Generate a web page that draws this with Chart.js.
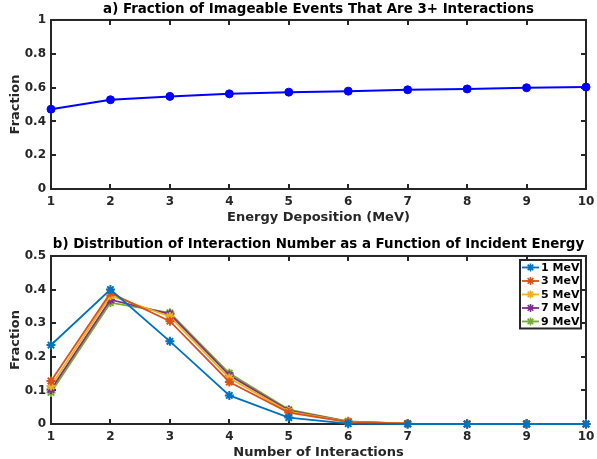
<!DOCTYPE html>
<html>
<head>
<meta charset="utf-8">
<script src="https://cdn.jsdelivr.net/npm/chart.js@4/dist/chart.umd.min.js"></script>
<style>
  html, body { margin: 0; padding: 0; background: #fff; }
  #wrap { position: relative; width: 597px; height: 459px; }
  canvas { position: absolute; left: 0; }
</style>
</head>
<body>
<div id="wrap">
  <canvas id="fracChart" width="597" height="230" style="top:0"></canvas>
  <canvas id="distChart" width="597" height="229" style="top:230px"></canvas>
</div>
<script>
// Panel a: fraction of imageable events with 3+ interactions vs deposited energy
const energyMeV = [1, 2, 3, 4, 5, 6, 7, 8, 9, 10];
const fraction3Plus = [0.472, 0.528, 0.548, 0.563, 0.573, 0.579, 0.587, 0.592, 0.599, 0.603];
const fracTicks = [0, 0.2, 0.4, 0.6, 0.8, 1];

// Panel b: distribution of interaction number for several incident energies
const interactionNumber = [1, 2, 3, 4, 5, 6, 7, 8, 9, 10];
const seriesLabels = ['1 MeV', '3 MeV', '5 MeV', '7 MeV', '9 MeV'];
const dist1MeV = [0.235, 0.400, 0.246, 0.085, 0.019, 0.001, 0, 0, 0, 0];
const dist3MeV = [0.128, 0.390, 0.306, 0.125, 0.034, 0.006, 0.001, 0, 0, 0];
const dist5MeV = [0.113, 0.382, 0.320, 0.137, 0.037, 0.007, 0.001, 0, 0, 0];
const dist7MeV = [0.103, 0.370, 0.327, 0.145, 0.040, 0.007, 0.001, 0, 0, 0];
const dist9MeV = [0.094, 0.361, 0.331, 0.151, 0.043, 0.008, 0.001, 0, 0, 0];
const distTicks = [0, 0.1, 0.2, 0.3, 0.4, 0.5];
const xTicks = [1, 2, 3, 4, 5, 6, 7, 8, 9, 10];

const seriesColors = ['#0072BD', '#D95319', '#EDB120', '#7E2F8E', '#77AC30'];
const axisColor = '#262626';
const FONT = "'DejaVu Sans', sans-serif";

const pairs = (xs, ys) => xs.map((x, i) => ({ x, y: ys[i] }));
const fmt = v => String(+Number(v).toFixed(3));

// Closed box with short inward tick marks on all four sides
const axesBox = {
  id: 'axesBox',
  beforeDatasetsDraw(chart) {
    const { ctx, chartArea: a, scales: { x, y } } = chart;
    const len = 5;
    ctx.save();
    ctx.strokeStyle = axisColor;
    ctx.lineWidth = 2;
    ctx.beginPath();
    x.ticks.forEach(t => {
      const px = Math.round(x.getPixelForValue(t.value));
      ctx.moveTo(px, a.bottom); ctx.lineTo(px, a.bottom - len);
      ctx.moveTo(px, a.top); ctx.lineTo(px, a.top + len);
    });
    y.ticks.forEach(t => {
      const py = Math.round(y.getPixelForValue(t.value));
      ctx.moveTo(a.left, py); ctx.lineTo(a.left + len, py);
      ctx.moveTo(a.right, py); ctx.lineTo(a.right - len, py);
    });
    ctx.stroke();
    ctx.strokeRect(a.left, a.top, a.right - a.left, a.bottom - a.top);
    ctx.restore();
  }
};

function drawStar(ctx, cx, cy, r) {
  const d = r * Math.SQRT1_2;
  ctx.beginPath();
  ctx.moveTo(cx - r, cy); ctx.lineTo(cx + r, cy);
  ctx.moveTo(cx, cy - r); ctx.lineTo(cx, cy + r);
  ctx.moveTo(cx - d, cy - d); ctx.lineTo(cx + d, cy + d);
  ctx.moveTo(cx - d, cy + d); ctx.lineTo(cx + d, cy - d);
  ctx.stroke();
}

// Boxed legend in the upper-right corner of the plot area
const cornerLegend = {
  id: 'cornerLegend',
  afterDraw(chart) {
    const { ctx, chartArea: a } = chart;
    const sets = chart.data.datasets;
    const boxW = 61, rowH = 13.5;
    const boxH = rowH * sets.length + 1;
    const bx = a.right - 5 - boxW, by = a.top + 4;
    ctx.save();
    ctx.fillStyle = '#fff';
    ctx.fillRect(bx, by, boxW, boxH);
    ctx.strokeStyle = axisColor;
    ctx.lineWidth = 2;
    ctx.strokeRect(bx, by, boxW, boxH);
    ctx.font = "bold 11px " + FONT;
    ctx.textBaseline = 'middle';
    ctx.textAlign = 'left';
    sets.forEach((ds, i) => {
      const cy = by + 7.5 + i * rowH;
      ctx.strokeStyle = ds.borderColor;
      ctx.lineWidth = 1.8;
      ctx.beginPath();
      ctx.moveTo(bx + 2, cy); ctx.lineTo(bx + 19, cy);
      ctx.stroke();
      ctx.lineWidth = 1.6;
      drawStar(ctx, bx + 10.5, cy, 4);
      ctx.fillStyle = '#000';
      ctx.fillText(ds.label, bx + 21, cy + 0.5);
    });
    ctx.restore();
  }
};

function xScale(titleText, titlePadBottom, height) {
  return {
    type: 'linear', min: 1, max: 10,
    afterBuildTicks: s => { s.ticks = xTicks.map(v => ({ value: v })); },
    afterFit: s => { s.height = height; s.paddingLeft = 0; s.paddingRight = 0; },
    grid: { display: false, drawTicks: false },
    border: { display: false },
    ticks: { color: axisColor, padding: 5.5, callback: fmt,
             font: { family: FONT, size: 12, weight: 'bold' } },
    title: { display: true, text: titleText, color: axisColor,
             padding: { top: 0, bottom: titlePadBottom },
             font: { family: FONT, size: 13, weight: 'bold' } }
  };
}

function yScale(max, tickVals) {
  return {
    type: 'linear', min: 0, max: max,
    afterBuildTicks: s => { s.ticks = tickVals.map(v => ({ value: v })); },
    afterFit: s => { s.width = 51; },
    grid: { display: false, drawTicks: false },
    border: { display: false },
    ticks: { color: axisColor, padding: 5, callback: fmt,
             font: { family: FONT, size: 12, weight: 'bold' } },
    title: { display: true, text: 'Fraction', color: axisColor,
             padding: { top: 8, bottom: 0 },
             font: { family: FONT, size: 13, weight: 'bold' } }
  };
}

function titleOpts(text, padTop, padBottom) {
  return {
    display: true, text: text, color: '#000', fullSize: false,
    padding: { top: padTop, bottom: padBottom },
    font: { family: FONT, size: 13.4, weight: 'bold', lineHeight: 1.2 }
  };
}

new Chart(document.getElementById('fracChart'), {
  type: 'line',
  data: {
    datasets: [{
      label: 'Fraction',
      data: pairs(energyMeV, fraction3Plus),
      borderColor: '#0000FF', backgroundColor: '#0000FF',
      borderWidth: 2, pointStyle: 'circle', pointRadius: 4,
      pointBorderWidth: 1, tension: 0, clip: false
    }]
  },
  options: {
    responsive: false, animation: false, devicePixelRatio: 1,
    layout: { padding: { left: 0, right: 11, top: 0, bottom: 0 } },
    plugins: {
      legend: { display: false }, tooltip: { enabled: false },
      title: titleOpts('a) Fraction of Imageable Events That Are 3+ Interactions', 1.8, 2.1)
    },
    scales: {
      x: xScale('Energy Deposition (MeV)', 4.5, 41),
      y: yScale(1, fracTicks)
    }
  },
  plugins: [axesBox]
});

const distSeries = [dist1MeV, dist3MeV, dist5MeV, dist7MeV, dist9MeV];

new Chart(document.getElementById('distChart'), {
  type: 'line',
  data: {
    datasets: distSeries.map((vals, i) => ({
      label: seriesLabels[i],
      data: pairs(interactionNumber, vals),
      borderColor: seriesColors[i], backgroundColor: seriesColors[i],
      borderWidth: 1.8, pointStyle: 'star', pointRadius: 4.5,
      pointBorderWidth: 2, tension: 0, clip: false
    }))
  },
  options: {
    responsive: false, animation: false, devicePixelRatio: 1,
    layout: { padding: { left: 0, right: 11, top: 0, bottom: 0 } },
    plugins: {
      legend: { display: false }, tooltip: { enabled: false },
      title: titleOpts('b) Distribution of Interaction Number as a Function of Incident Energy', 6, 3.9)
    },
    scales: {
      x: xScale('Number of Interactions', -1, 35),
      y: yScale(0.5, distTicks)
    }
  },
  plugins: [axesBox, cornerLegend]
});
</script>
</body>
</html>
